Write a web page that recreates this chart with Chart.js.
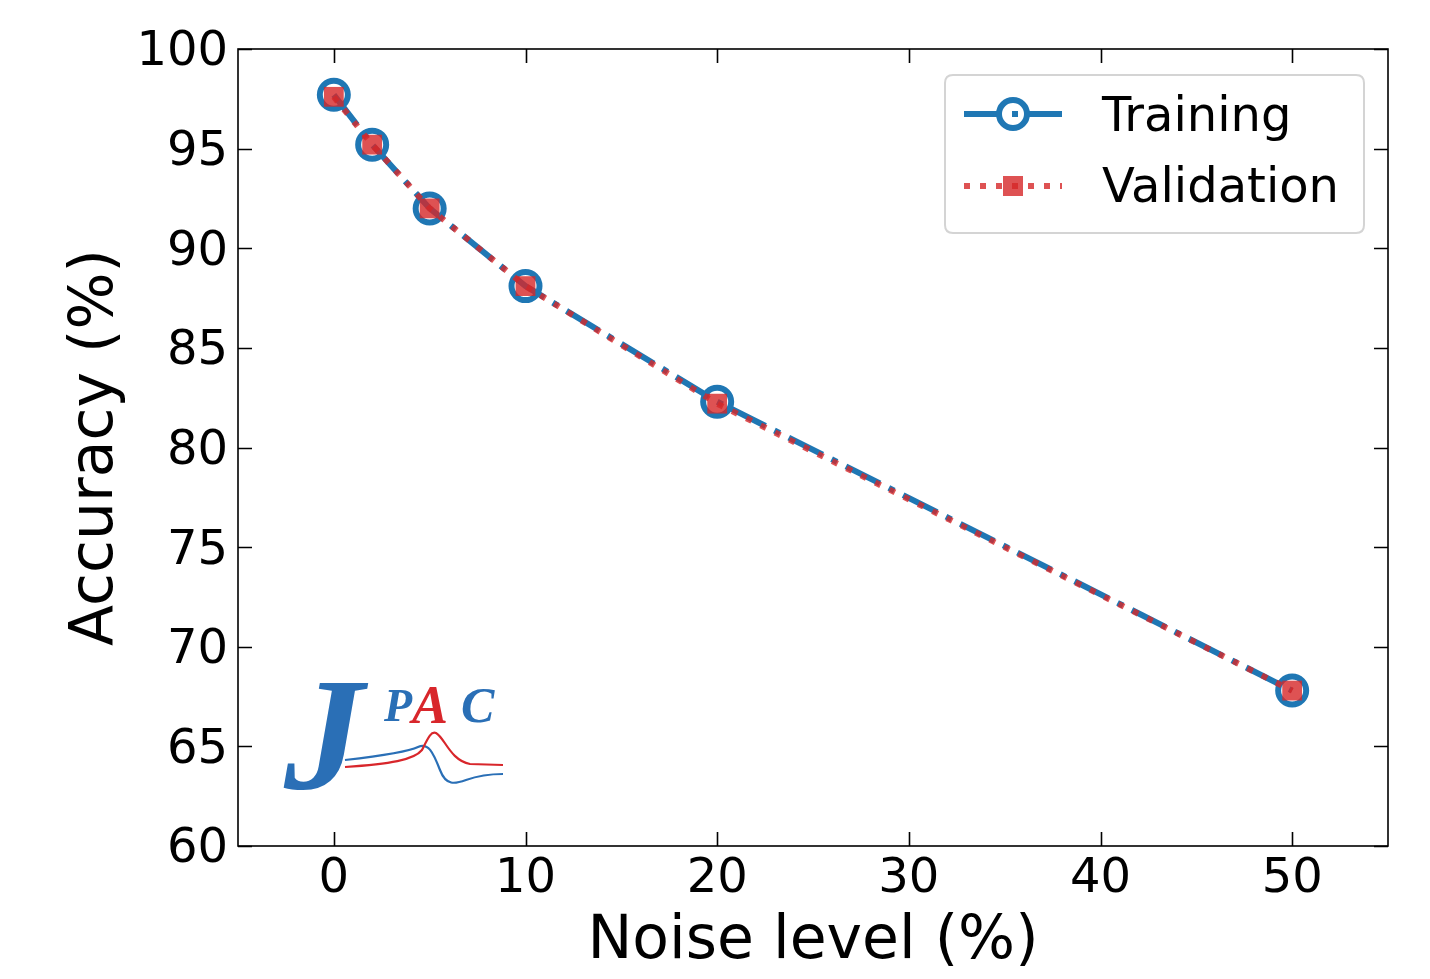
<!DOCTYPE html>
<html>
<head>
<meta charset="utf-8">
<script src="https://cdn.jsdelivr.net/npm/chart.js@4/dist/chart.umd.min.js"></script>
<style>
  html, body { margin: 0; padding: 0; background: #ffffff; }
  canvas { display: block; }
</style>
</head>
<body>
<canvas id="c" width="1430" height="979"></canvas>
<script>
// ---- data ----
const noiseLevels   = [0, 2, 5, 10, 20, 50];
const trainingAcc   = [97.7, 95.2, 92.0, 88.1, 82.3, 67.8];
const validationAcc = [97.6, 95.2, 92.0, 88.1, 82.2, 67.8];
const xTickValues   = [0, 10, 20, 30, 40, 50];
const yTickValues   = [60, 65, 70, 75, 80, 85, 90, 95, 100];
const seriesNames   = ['Training', 'Validation'];

const FONT = '"DejaVu Sans", sans-serif';
const BLUE = '#1f77b4';
const RED = 'rgba(214,39,40,0.8)';
const TRAIN_DASH = [38, 10, 6, 10];
const VAL_DASH = [6, 10];

const framePlugin = {
  id: 'frame',
  afterDatasetsDraw(chart) {
    const {ctx, chartArea: a, scales: {x, y}} = chart;
    ctx.save();
    ctx.strokeStyle = '#000';
    ctx.lineWidth = 1.6;
    ctx.setLineDash([]);
    ctx.strokeRect(a.left, a.top, a.right - a.left, a.bottom - a.top);
    const L = 14;
    ctx.beginPath();
    xTickValues.forEach(v => {
      const px = Math.round(x.getPixelForValue(v)) + 0.5;
      ctx.moveTo(px, a.bottom); ctx.lineTo(px, a.bottom - L);
      ctx.moveTo(px, a.top); ctx.lineTo(px, a.top + L);
    });
    yTickValues.forEach(v => {
      const py = Math.round(y.getPixelForValue(v)) + 0.5;
      ctx.moveTo(a.left, py); ctx.lineTo(a.left + L, py);
      ctx.moveTo(a.right, py); ctx.lineTo(a.right - L, py);
    });
    ctx.stroke();
    ctx.restore();
  }
};

function roundRect(ctx, x, y, w, h, r) {
  ctx.beginPath();
  ctx.moveTo(x + r, y);
  ctx.lineTo(x + w - r, y);
  ctx.quadraticCurveTo(x + w, y, x + w, y + r);
  ctx.lineTo(x + w, y + h - r);
  ctx.quadraticCurveTo(x + w, y + h, x + w - r, y + h);
  ctx.lineTo(x + r, y + h);
  ctx.quadraticCurveTo(x, y + h, x, y + h - r);
  ctx.lineTo(x, y + r);
  ctx.quadraticCurveTo(x, y, x + r, y);
  ctx.closePath();
}

const legendPlugin = {
  id: 'mplLegend',
  afterDraw(chart) {
    const ctx = chart.ctx;
    ctx.save();
    roundRect(ctx, 945, 75, 419, 158, 8);
    ctx.fillStyle = 'rgba(255,255,255,0.85)';
    ctx.fill();
    ctx.strokeStyle = '#d4d4d4';
    ctx.lineWidth = 2;
    ctx.stroke();
    const y1 = 114, y2 = 186, x0 = 964, x1 = 1062, xm = 1013;
    ctx.beginPath();
    ctx.setLineDash(TRAIN_DASH);
    ctx.strokeStyle = BLUE; ctx.lineWidth = 6; ctx.lineCap = 'butt';
    ctx.moveTo(x0, y1); ctx.lineTo(x1, y1); ctx.stroke();
    ctx.setLineDash([]);
    ctx.beginPath();
    ctx.arc(xm, y1, 14, 0, Math.PI * 2);
    ctx.lineWidth = 6; ctx.stroke();
    ctx.beginPath();
    ctx.setLineDash(VAL_DASH);
    ctx.strokeStyle = RED; ctx.lineWidth = 6;
    ctx.moveTo(x0, y2); ctx.lineTo(x1, y2); ctx.stroke();
    ctx.setLineDash([]);
    ctx.fillStyle = RED;
    ctx.fillRect(xm - 10, y2 - 10, 20, 20);
    ctx.fillStyle = '#000';
    ctx.font = '48px ' + FONT;
    ctx.textAlign = 'left';
    ctx.textBaseline = 'alphabetic';
    ctx.fillText(seriesNames[0], 1102, 131);
    ctx.fillText(seriesNames[1], 1102, 202);
    ctx.restore();
  }
};

const logoPlugin = {
  id: 'logo',
  afterDraw(chart) {
    const ctx = chart.ctx;
    ctx.save();
    const lb = '#2a6fb6', lr = '#d8262b';
    ctx.lineWidth = 2.2;
    ctx.strokeStyle = lb;
    ctx.beginPath();
    ctx.moveTo(345, 760);
    ctx.bezierCurveTo(380, 756, 408, 752, 418, 747);
    ctx.bezierCurveTo(428, 742, 433, 752, 440, 770);
    ctx.bezierCurveTo(446, 786, 455, 784, 466, 780);
    ctx.bezierCurveTo(480, 775, 495, 774, 503, 774);
    ctx.stroke();
    ctx.strokeStyle = lr;
    ctx.beginPath();
    ctx.moveTo(345, 767);
    ctx.bezierCurveTo(390, 764, 414, 760, 422, 750);
    ctx.bezierCurveTo(428, 738, 431, 731, 436, 733);
    ctx.bezierCurveTo(445, 738, 450, 760, 470, 764);
    ctx.lineTo(503, 765);
    ctx.stroke();
    ctx.textBaseline = 'alphabetic';
    ctx.textAlign = 'left';
    ctx.fillStyle = lb;
    ctx.font = 'bold italic 160px "Liberation Serif", serif';
    ctx.fillText('J', 284, 788);
    ctx.font = 'bold italic 46px "Liberation Serif", serif';
    ctx.fillText('P', 384, 721);
    ctx.fillStyle = lr;
    ctx.font = 'bold italic 54px "Liberation Serif", serif';
    ctx.fillText('A', 412, 723);
    ctx.fillStyle = lb;
    ctx.font = 'bold italic 50px "Liberation Serif", serif';
    ctx.fillText('C', 461, 722);
    ctx.restore();
  }
};

new Chart(document.getElementById('c'), {
  type: 'line',
  data: {
    datasets: [
      {
        label: seriesNames[0],
        data: noiseLevels.map((x, i) => ({x, y: trainingAcc[i]})),
        borderColor: BLUE,
        borderWidth: 6,
        borderDash: TRAIN_DASH,
        pointStyle: 'circle',
        pointRadius: 14,
        pointBorderWidth: 6,
        pointBorderColor: BLUE,
        pointBackgroundColor: 'rgba(0,0,0,0)',
        fill: false,
        tension: 0,
        order: 2
      },
      {
        label: seriesNames[1],
        data: noiseLevels.map((x, i) => ({x, y: validationAcc[i]})),
        borderColor: RED,
        borderWidth: 6,
        borderDash: VAL_DASH,
        pointStyle: 'rect',
        pointRadius: 14,
        pointBorderWidth: 0,
        pointBorderColor: RED,
        pointBackgroundColor: RED,
        fill: false,
        tension: 0,
        order: 1
      }
    ]
  },
  options: {
    responsive: false,
    animation: false,
    events: [],
    layout: { padding: { top: 49, right: 42, left: 0, bottom: 0 } },
    plugins: { legend: { display: false }, tooltip: { enabled: false } },
    scales: {
      x: {
        type: 'linear', min: -5, max: 55,
        afterBuildTicks: s => { s.ticks = xTickValues.map(v => ({value: v})); },
        afterFit: s => { s.height = 133; },
        grid: { display: false, drawTicks: false },
        border: { display: false },
        ticks: { font: { family: FONT, size: 48 }, color: '#000', padding: 5, maxRotation: 0, autoSkip: false },
        title: { display: true, text: 'Noise level (%)', color: '#000', font: { family: FONT, size: 60 }, padding: { top: 0, bottom: 1 } }
      },
      y: {
        type: 'linear', min: 60, max: 100,
        afterBuildTicks: s => { s.ticks = yTickValues.map(v => ({value: v})); },
        afterFit: s => { s.width = 238; },
        grid: { display: false, drawTicks: false },
        border: { display: false },
        ticks: { font: { family: FONT, size: 48 }, color: '#000', padding: 10, autoSkip: false, labelOffset: 4 },
        title: { display: true, text: 'Accuracy (%)', color: '#000', font: { family: FONT, size: 60 }, padding: { top: 60, bottom: 0 } }
      }
    }
  },
  plugins: [framePlugin, logoPlugin, legendPlugin]
});
</script>
</body>
</html>
